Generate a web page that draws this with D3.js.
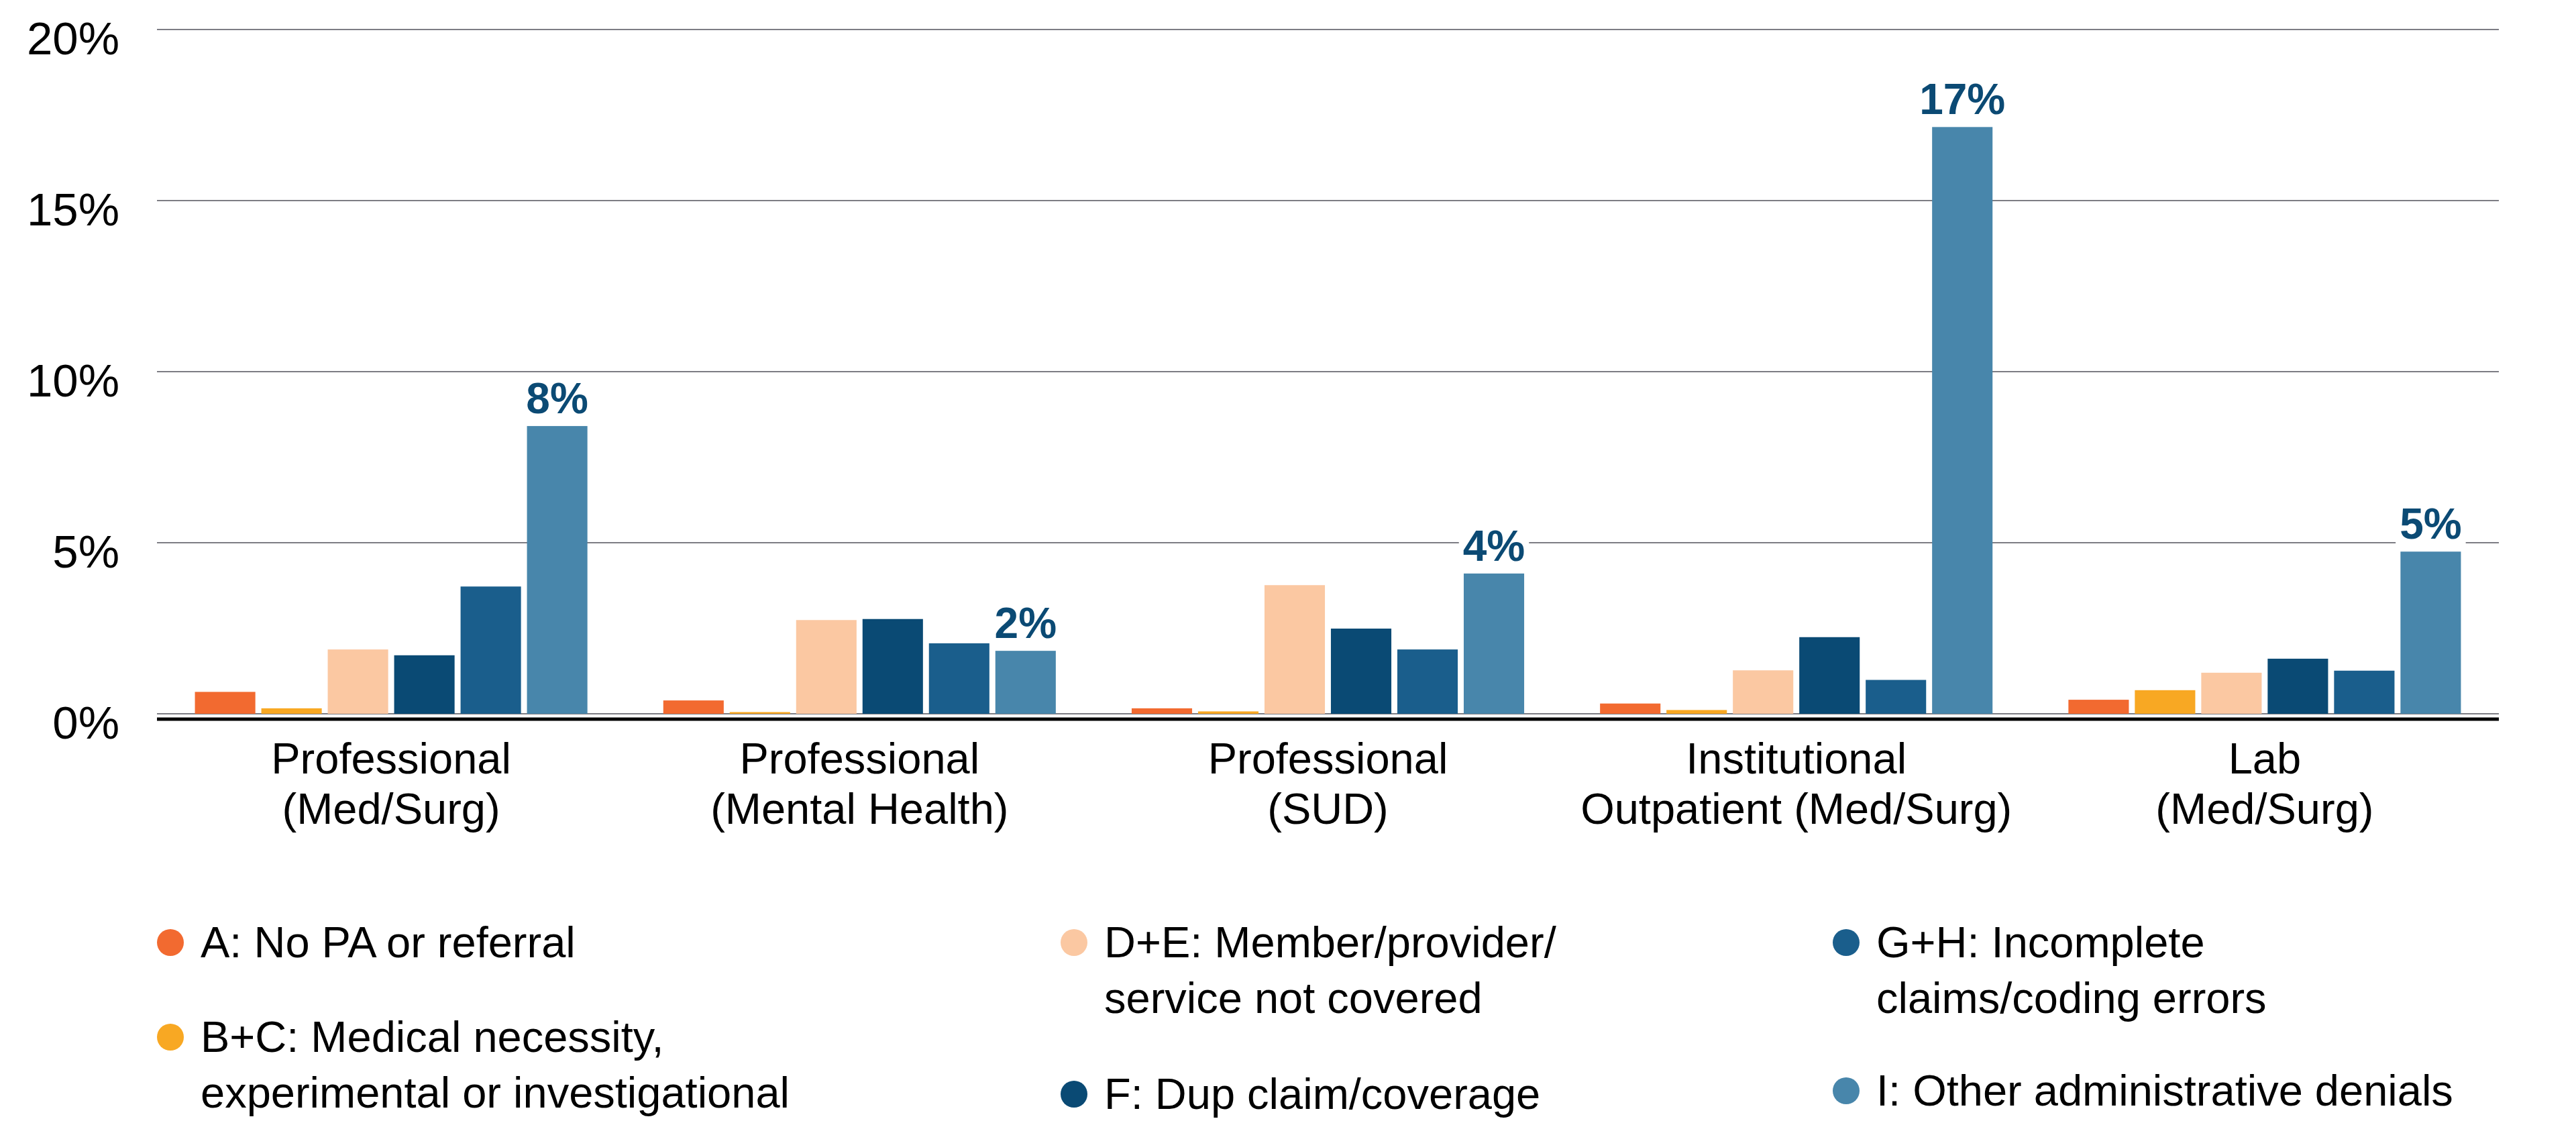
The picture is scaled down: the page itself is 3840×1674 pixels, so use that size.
<!DOCTYPE html>
<html>
<head>
<meta charset="utf-8">
<script src="https://cdn.jsdelivr.net/npm/d3@7"></script>
<style>
  body { margin: 0; background: #fff; }
  svg { display: block; font-family: 'Liberation Sans', Arial, sans-serif; }
</style>
</head>
<body>
<svg id="chart" width="3840" height="1674"></svg>
<script>
// denial reasons by claim type, values in percent

const categories = [
  ['Professional', '(Med/Surg)'],
  ['Professional', '(Mental Health)'],
  ['Professional', '(SUD)'],
  ['Institutional', 'Outpatient (Med/Surg)'],
  ['Lab', '(Med/Surg)']
]

const seriesKeys = ['A', 'B+C', 'D+E', 'F', 'G+H', 'I']

const valA = [0.64, 0.39, 0.16, 0.30, 0.41]
const valBC = [0.16, 0.05, 0.07, 0.11, 0.69]
const valDE = [1.88, 2.74, 3.76, 1.27, 1.20]
const valF = [1.71, 2.77, 2.49, 2.24, 1.61]
const valGH = [3.72, 2.06, 1.88, 0.99, 1.26]
const valI = [8.41, 1.84, 4.10, 17.15, 4.74]

const yTicks = [0, 5, 10, 15, 20]

const legendLabels = [
  ['A: No PA or referral'],
  ['B+C: Medical necessity,', 'experimental or investigational'],
  ['D+E: Member/provider/', 'service not covered'],
  ['F: Dup claim/coverage'],
  ['G+H: Incomplete', 'claims/coding errors'],
  ['I: Other administrative denials']
]

const colors = ['#F26A30', '#F8A823', '#FBC8A2', '#0A4A74', '#1A5E8C', '#4886AB']

// build table for the chart
const table = categories.map((c, i) => ({
  cat: c.join(' '),
  lines: c,
  values: [valA[i], valBC[i], valDE[i], valF[i], valGH[i], valI[i]]
}))

const svg = d3.select('#chart')
const margin = { left: 234, right: 3725, top: 44, bottom: 1064 }

const x0 = d3.scaleBand()
  .domain(table.map(d => d.cat))
  .range([margin.left, margin.right])
  .paddingInner(0.162)
  .paddingOuter(0.081)

const x1 = d3.scaleBand()
  .domain(seriesKeys)
  .range([0, x0.bandwidth()])
  .paddingInner(0.09)

const y = d3.scaleLinear().domain([0, 20]).range([margin.bottom, margin.top])

const color = d3.scaleOrdinal().domain(seriesKeys).range(colors)

// gridlines
svg.append('g')
  .selectAll('line')
  .data(yTicks)
  .enter()
  .append('line')
  .attr('x1', margin.left)
  .attr('x2', margin.right)
  .attr('y1', d => y(d))
  .attr('y2', d => y(d))
  .attr('stroke', '#7d7d84')
  .attr('stroke-width', 2)

// y axis labels
svg.append('g')
  .selectAll('text')
  .data(yTicks)
  .enter()
  .append('text')
  .attr('x', 178)
  .attr('y', d => y(d) + 37)
  .attr('text-anchor', 'end')
  .style('font-size', '69px')
  .attr('fill', '#000')
  .text(d => d + '%')

// bars
const groups = svg.append('g')
  .selectAll('g')
  .data(table)
  .enter()
  .append('g')
  .attr('transform', d => `translate(${x0(d.cat)},0)`)

groups.selectAll('rect')
  .data(d => d.values.map((v, i) => ({ key: seriesKeys[i], value: v })))
  .enter()
  .append('rect')
  .attr('x', d => x1(d.key))
  .attr('width', x1.bandwidth())
  .attr('y', d => y(d.value))
  .attr('height', d => y(0) - y(d.value))
  .attr('fill', d => color(d.key))

// baseline axis
svg.append('line')
  .attr('x1', margin.left)
  .attr('x2', margin.right)
  .attr('y1', y(0) + 8)
  .attr('y2', y(0) + 8)
  .attr('stroke', '#000')
  .attr('stroke-width', 5)

// value labels on the I series, with white box so gridline is hidden
const lastKey = seriesKeys[seriesKeys.length - 1]
const labelG = svg.append('g')
table.forEach(d => {
  const v = d.values[d.values.length - 1]
  const cx = x0(d.cat) + x1(lastKey) + x1.bandwidth() / 2
  const g = labelG.append('g')
  const t = g.append('text')
    .attr('x', cx)
    .attr('y', y(v) - 19)
    .attr('text-anchor', 'middle')
    .style('font-size', '64px')
    .style('font-weight', 'bold')
    .attr('fill', '#0B4A74')
    .text(Math.round(v) + '%')
  const bb = t.node().getBBox()
  g.insert('rect', 'text')
    .attr('x', bb.x - 6)
    .attr('y', bb.y + 6)
    .attr('width', bb.width + 12)
    .attr('height', bb.height - 6)
    .attr('fill', '#fff')
})

// category labels
const catG = svg.append('g')
  .selectAll('text')
  .data(table)
  .enter()
  .append('text')
  .attr('text-anchor', 'middle')
  .style('font-size', '65px')
  .attr('fill', '#000')

catG.selectAll('tspan')
  .data(d => d.lines.map(l => ({ l: l, x: x0(d.cat) + x0.bandwidth() / 2 })))
  .enter()
  .append('tspan')
  .attr('x', d => d.x)
  .attr('y', (d, i) => 1153 + i * 75)
  .text(d => d.l)

// legend, three columns
const legendCols = [254, 1601, 2752]
const legendSpots = [
  { col: 0, y: 1427 }, { col: 0, y: 1568 },
  { col: 1, y: 1427 }, { col: 1, y: 1653 },
  { col: 2, y: 1427 }, { col: 2, y: 1648 }
]

const leg = svg.append('g')
  .selectAll('g')
  .data(seriesKeys)
  .enter()
  .append('g')
  .attr('transform', (d, i) => `translate(${legendCols[legendSpots[i].col]},${legendSpots[i].y})`)

leg.append('circle')
  .attr('cx', 0)
  .attr('cy', -22)
  .attr('r', 20)
  .attr('fill', d => color(d))

leg.append('text')
  .style('font-size', '65px')
  .attr('fill', '#000')
  .selectAll('tspan')
  .data((d, i) => legendLabels[i])
  .enter()
  .append('tspan')
  .attr('x', 45)
  .attr('y', (d, i) => i * 83)
  .text(d => d)
</script>
</body>
</html>
